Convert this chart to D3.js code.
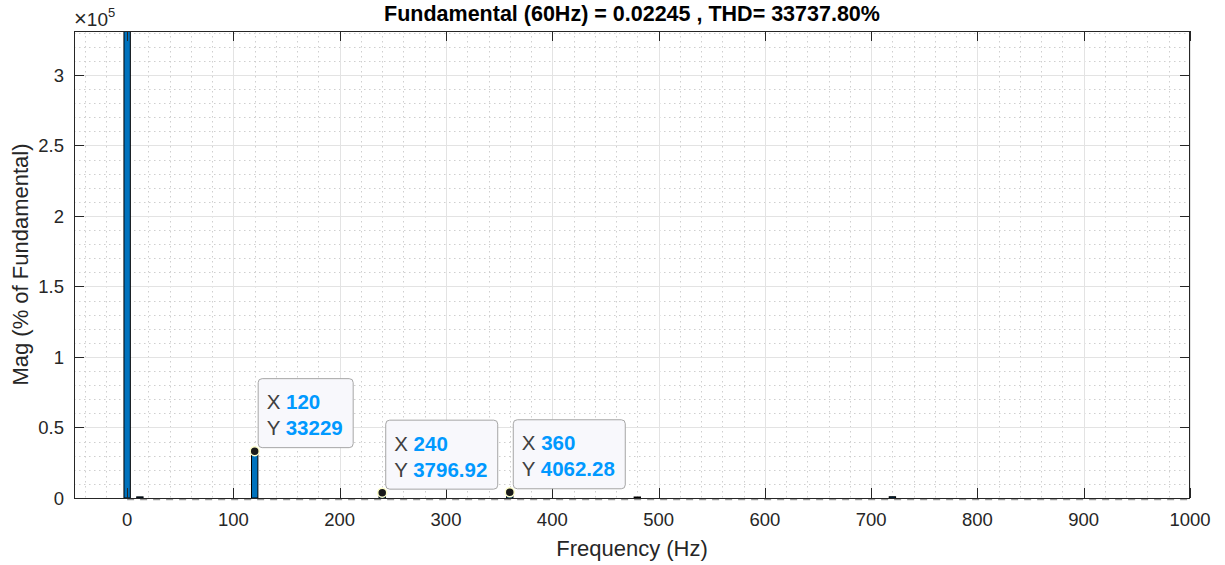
<!DOCTYPE html>
<html><head><meta charset="utf-8">
<script src="https://cdn.jsdelivr.net/npm/d3@7"></script>
<style>
body{margin:0;background:#fff;}
text{font-family:"Liberation Sans",Arial,Helvetica,sans-serif;}
</style></head>
<body><svg id="c" width="1225" height="565"></svg>
<script>
// ---- data ----
const freqs = [0, 12, 120, 240, 360, 480, 720];
const mags  = [420000, 800, 33229, 3796.92, 4062.28, 700, 900];
const xTicks = [0, 100, 200, 300, 400, 500, 600, 700, 800, 900, 1000];
const yTicks = [0, 50000, 100000, 150000, 200000, 250000, 300000];
const yTickLabels = ["0", "0.5", "1", "1.5", "2", "2.5", "3"];
const tipX = [120, 240, 360];
const tipY = [33229, 3796.92, 4062.28];
const tipYText = ["33229", "3796.92", "4062.28"];
const titleText = "Fundamental (60Hz) = 0.02245 , THD= 33737.80%";

const svg = d3.select("#c");
const L = 74, R = 1190, T = 31, B = 498;
const x = d3.scaleLinear().domain([-50, 1000]).range([L, R]);
const y = d3.scaleLinear().domain([0, 331200]).range([B, T]);
const barW = 6; // Hz

const axisCol = "#262626";

svg.append("defs").append("clipPath").attr("id", "clip")
  .append("rect").attr("x", L).attr("y", T).attr("width", R - L).attr("height", B - T);

// minor grid
const minorX = d3.range(-40, 1001, 20).filter(v => v % 100 !== 0);
const minorY = d3.range(10000, 331200, 10000).filter(v => v % 50000 !== 0);
const g = svg.append("g");
g.selectAll(".mx").data(minorX).enter().append("line")
  .attr("x1", d => Math.round(x(d)) + 0.5).attr("x2", d => Math.round(x(d)) + 0.5).attr("y1", T).attr("y2", B)
  .attr("stroke", "#cfcfcf").attr("stroke-width", 1).attr("stroke-dasharray", "1.5,3.5");
g.selectAll(".my").data(minorY).enter().append("line")
  .attr("x1", L).attr("x2", R).attr("y1", d => Math.round(y(d)) + 0.5).attr("y2", d => Math.round(y(d)) + 0.5)
  .attr("stroke", "#cfcfcf").attr("stroke-width", 1).attr("stroke-dasharray", "1.5,3.5");
// major grid
g.selectAll(".gx").data(xTicks).enter().append("line")
  .attr("x1", d => Math.round(x(d)) + 0.5).attr("x2", d => Math.round(x(d)) + 0.5).attr("y1", T).attr("y2", B)
  .attr("stroke", "#e3e3e3").attr("stroke-width", 1);
g.selectAll(".gy").data(yTicks).enter().append("line")
  .attr("x1", L).attr("x2", R).attr("y1", d => Math.round(y(d)) + 0.5).attr("y2", d => Math.round(y(d)) + 0.5)
  .attr("stroke", "#e3e3e3").attr("stroke-width", 1);

// zero-height bar edges along baseline
svg.append("line").attr("x1", x(0)).attr("x2", x(1000)).attr("y1", B + 1.5).attr("y2", B + 1.5)
  .attr("stroke", "#9a9a9a").attr("stroke-width", 1.5).attr("stroke-dasharray", "7,6");

// bars
const data = freqs.map((f, i) => ({f, m: mags[i]}));
svg.append("g").attr("clip-path", "url(#clip)").selectAll("rect").data(data).enter().append("rect")
  .attr("x", d => x(d.f - barW / 2))
  .attr("width", d => x(d.f + barW / 2) - x(d.f - barW / 2))
  .attr("y", d => y(d.m))
  .attr("height", d => B - y(d.m))
  .attr("fill", "#0072BD").attr("stroke", "#000").attr("stroke-width", 1);

// axes box
const ax = svg.append("g");
ax.append("rect").attr("x", L + 0.5).attr("y", T + 0.5).attr("width", R - L - 1).attr("height", B - T)
  .attr("fill", "none").attr("stroke", axisCol).attr("stroke-width", 1);

const tl = 10;
xTicks.forEach(v => {
  const px = Math.round(x(v)) + 0.5;
  ax.append("line").attr("x1", px).attr("x2", px).attr("y1", B).attr("y2", B - tl).attr("stroke", axisCol);
  ax.append("line").attr("x1", px).attr("x2", px).attr("y1", T).attr("y2", T + tl).attr("stroke", axisCol);
  ax.append("text").attr("x", x(v)).attr("y", 526).attr("text-anchor", "middle")
    .attr("font-size", 18.5).attr("fill", axisCol).text(v);
});
yTicks.forEach((v, i) => {
  const py = Math.round(y(v)) + 0.5;
  ax.append("line").attr("x1", L).attr("x2", L + tl).attr("y1", py).attr("y2", py).attr("stroke", axisCol);
  ax.append("line").attr("x1", R).attr("x2", R - tl).attr("y1", py).attr("y2", py).attr("stroke", axisCol);
  ax.append("text").attr("x", 64).attr("y", y(v) + 7).attr("text-anchor", "end")
    .attr("font-size", 18.5).attr("fill", axisCol).text(yTickLabels[i]);
});

// exponent
const ex = ax.append("text").attr("x", 74).attr("y", 26).attr("font-size", 19).attr("fill", axisCol);
ex.append("tspan").attr("font-size", 22).text("\u00d7");
ex.append("tspan").text("10");
ex.append("tspan").attr("dy", -9).attr("font-size", 13).text("5");

// title & labels
svg.append("text").attr("x", (L + R) / 2).attr("y", 21).attr("text-anchor", "middle")
  .attr("font-size", 21.5).attr("font-weight", "bold").attr("fill", "#000").text(titleText);
svg.append("text").attr("x", (L + R) / 2).attr("y", 556).attr("text-anchor", "middle")
  .attr("font-size", 22).attr("fill", axisCol).text("Frequency (Hz)");
svg.append("text").attr("transform", `translate(28,${(T + B) / 2}) rotate(-90)`).attr("text-anchor", "middle")
  .attr("font-size", 22).attr("fill", axisCol).text("Mag (% of Fundamental)");

// datatips
const tips = tipX.map((f, i) => ({f, v: tipY[i], t: tipYText[i]}));
tips.forEach(d => {
  const mx = x(d.f), my = y(d.v);
  const bx = mx + 3, by = my - 73;
  const bw = d.t.length > 5 ? 112 : 95;
  const tg = svg.append("g");
  tg.append("rect").attr("x", bx + 0.5).attr("y", by + 0.5).attr("width", bw).attr("height", 69)
    .attr("rx", 4).attr("fill", "#f8f8fc").attr("stroke", "#a6a6a6").attr("stroke-width", 1);
  const t1 = tg.append("text").attr("x", bx + 9).attr("y", by + 31).attr("font-size", 20.5);
  t1.append("tspan").attr("fill", "#404040").text("X ");
  t1.append("tspan").attr("fill", "#0099ff").attr("font-weight", "bold").text(d.f);
  const t2 = tg.append("text").attr("x", bx + 9).attr("y", by + 57).attr("font-size", 20.5);
  t2.append("tspan").attr("fill", "#404040").text("Y ");
  t2.append("tspan").attr("fill", "#0099ff").attr("font-weight", "bold").text(d.t);
  tg.append("circle").attr("cx", mx).attr("cy", my).attr("r", 4.5)
    .attr("fill", "#1a1a1a").attr("stroke", "#ffffcc").attr("stroke-width", 1.5);
});
</script></body></html>
